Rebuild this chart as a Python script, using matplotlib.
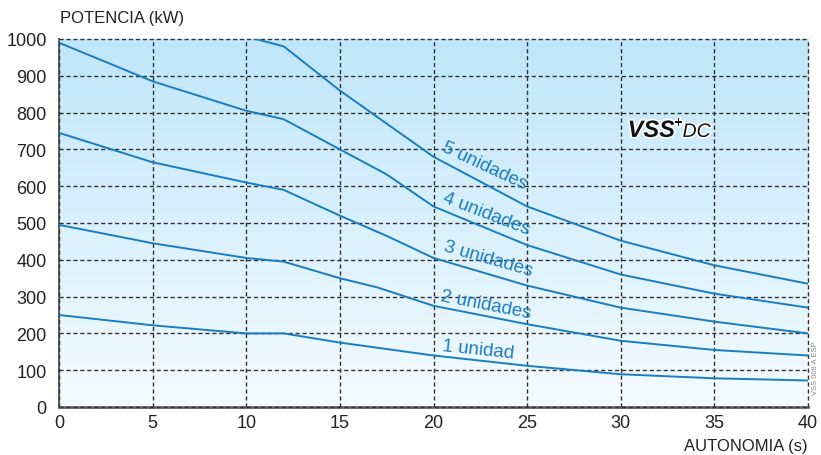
import matplotlib.pyplot as plt
import numpy as np
from matplotlib.colors import LinearSegmentedColormap
import matplotlib.patheffects as pe

plt.rcParams['font.family'] = ['Liberation Sans', 'DejaVu Sans']

# curves: autonomy (s) -> power (kW)
x1 = [0, 5, 10, 12, 15, 20, 25, 30, 35, 40]
p1 = [250, 222, 200, 200, 175, 140, 112, 89, 78, 72]

x2 = [0, 5, 10, 12, 15, 17, 20, 25, 30, 35, 40]
p2 = [495, 445, 405, 395, 350, 325, 275, 225, 180, 155, 140]

x3 = [0, 5, 10, 12, 15, 17.5, 20, 25, 30, 35, 40]
p3 = [745, 665, 610, 590, 520, 465, 405, 330, 270, 232, 200]

x4 = [0, 5, 10, 12, 15, 17.5, 20, 25, 30, 35, 40]
p4 = [990, 885, 805, 782, 700, 632, 545, 440, 360, 308, 270]

x5 = [10.5, 12, 15, 17.5, 20, 25, 30, 35, 40]
p5 = [1000, 980, 860, 770, 680, 545, 452, 385, 335]

series = [(x1, p1), (x2, p2), (x3, p3), (x4, p4), (x5, p5)]
labels = ['1 unidad', '2 unidades', '3 unidades', '4 unidades', '5 unidades']
label_pos = [(22.4, 157, -6), (22.8, 279, -11), (22.9, 405, -16), (22.8, 528, -21), (22.7, 656, -25)]

xticks = [0, 5, 10, 15, 20, 25, 30, 35, 40]
yticks = [0, 100, 200, 300, 400, 500, 600, 700, 800, 900, 1000]

blue = '#1a7dc1'

fig = plt.figure(figsize=(8.21, 4.56), dpi=100)
ax = fig.add_axes([59 / 821, 1 - 408 / 456, 749 / 821, 368 / 456])

# background gradient
cmap = LinearSegmentedColormap.from_list('bg', ['#f4fbff', '#bfe6fa'])
grad = np.linspace(0, 1, 256).reshape(-1, 1)
ax.imshow(grad, extent=[0, 40, 0, 1000], origin='lower', aspect='auto', cmap=cmap, zorder=0)

ax.set_xlim(0, 40)
ax.set_ylim(0, 1000)
ax.set_xticks(xticks)
ax.set_yticks(yticks)
ax.grid(True, color='#333333', linestyle=(0, (3, 2)), linewidth=1.0, zorder=1)
ax.set_axisbelow(False)
ax.tick_params(length=0, labelsize=13, colors='#222222')
ax.tick_params(axis='y', pad=9)
ax.tick_params(axis='x', pad=5)
for gl in ax.get_xgridlines() + ax.get_ygridlines():
    gl.set_clip_on(False)

for s in ['top', 'right']:
    ax.spines[s].set_visible(False)
ax.spines['left'].set_color('#666666')
ax.spines['bottom'].set_color('#666666')
ax.spines['left'].set_linewidth(1.5)
ax.spines['bottom'].set_linewidth(2)

for (xs, ps) in series:
    ax.plot(xs, ps, color=blue, linewidth=1.4, zorder=3)

for lab, (lx, ly, rot) in zip(labels, label_pos):
    ax.text(lx, ly, lab, color=blue, fontsize=13.5, rotation=rot,
            rotation_mode='anchor', ha='center', va='center', zorder=4)

# VSS+DC logo
halo = [pe.withStroke(linewidth=2.5, foreground='white')]
ax.text(30.37, 734, 'VSS', fontsize=17, fontweight='bold', fontstyle='italic',
        color='#111111', va='baseline', ha='left', zorder=4, path_effects=halo)
ax.text(32.85, 760, '+', fontsize=11, fontweight='bold',
        color='#111111', va='baseline', ha='left', zorder=4, path_effects=halo)
ax.text(33.3, 734, 'DC', fontsize=14, fontstyle='italic',
        color='#111111', va='baseline', ha='left', zorder=4, path_effects=halo)

fig.text(60 / 821, 1 - 18 / 456, 'POTENCIA (kW)', fontsize=12, va='center', ha='left', color='#222222')
fig.text(808 / 821, 1 - 447 / 456, 'AUTONOMIA (s)', fontsize=12, va='center', ha='right', color='#222222')
fig.text(815 / 821, 1 - 368 / 456, 'VSS 008 A ESP', fontsize=5.5, rotation=90,
         va='center', ha='center', color='#888888')

fig.savefig('out.png', dpi=100)
